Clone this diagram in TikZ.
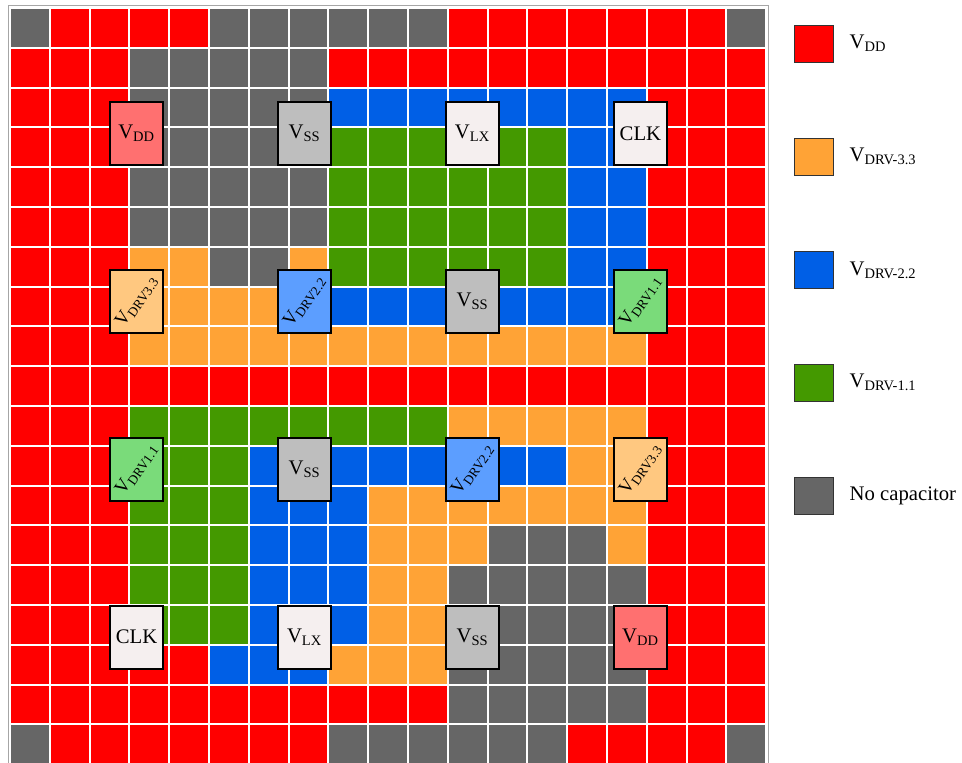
\documentclass[tikz,border=0pt]{standalone}
\usepackage{fontspec}
\setmainfont{Liberation Serif}
\usetikzlibrary{positioning}
\definecolor{cvdd}{RGB}{255,0,0}
\definecolor{cnocap}{RGB}{102,102,102}
\definecolor{cdrvhi}{RGB}{255,163,54}
\definecolor{cdrvmid}{RGB}{0,95,230}
\definecolor{cdrvlo}{RGB}{68,153,0}
\definecolor{padvdd}{RGB}{255,112,112}
\definecolor{padvss}{RGB}{190,190,190}
\definecolor{padsig}{RGB}{245,239,239}
\definecolor{padhi}{RGB}{255,200,128}
\definecolor{padmid}{RGB}{92,158,255}
\definecolor{padlo}{RGB}{122,219,122}
\newcommand{\volt}[1]{V\textsubscript{#1}}
\newcommand{\tilted}[1]{\rotatebox[origin=c]{55}{\fontsize{13.6}{16}\selectfont #1}}

\begin{document}
\begin{tikzpicture}[font=\fontsize{14.8}{17}\selectfont,
  pad/.style={draw=black,line width=1.2pt,minimum width=1.33cm,minimum height=1.58cm,inner sep=0pt},
  legbox/.style={draw=black!80,line width=0.6pt,minimum width=1cm,minimum height=0.93cm,inner sep=0pt},
  legtext/.style={right=0.38cm of #1,inner sep=0pt}]
\useasboundingbox (-0.251,0.201) rectangle (23.92,-18.945);
% capacitor array
\fill[cvdd] (0,0) rectangle (19,-19);
\foreach \r/\a/\b/\c in {0/0/0/cnocap,0/5/10/cnocap,0/18/18/cnocap,
  1/3/7/cnocap,
  2/3/7/cnocap,2/8/15/cdrvmid,
  3/3/7/cnocap,3/8/13/cdrvlo,3/14/15/cdrvmid,
  4/3/7/cnocap,4/8/13/cdrvlo,4/14/15/cdrvmid,
  5/3/7/cnocap,5/8/13/cdrvlo,5/14/15/cdrvmid,
  6/3/4/cdrvhi,6/5/6/cnocap,6/7/7/cdrvhi,6/8/13/cdrvlo,6/14/15/cdrvmid,
  7/3/7/cdrvhi,7/8/15/cdrvmid,
  8/3/15/cdrvhi,
  10/3/10/cdrvlo,10/11/15/cdrvhi,
  11/3/5/cdrvlo,11/6/13/cdrvmid,11/14/15/cdrvhi,
  12/3/5/cdrvlo,12/6/8/cdrvmid,12/9/15/cdrvhi,
  13/3/5/cdrvlo,13/6/8/cdrvmid,13/9/11/cdrvhi,13/12/14/cnocap,13/15/15/cdrvhi,
  14/3/5/cdrvlo,14/6/8/cdrvmid,14/9/10/cdrvhi,14/11/15/cnocap,
  15/3/5/cdrvlo,15/6/8/cdrvmid,15/9/10/cdrvhi,15/11/15/cnocap,
  16/5/7/cdrvmid,16/8/10/cdrvhi,16/11/15/cnocap,
  17/11/15/cnocap,
  18/0/0/cnocap,18/8/13/cnocap,18/18/18/cnocap}
  \fill[\c] (\a,-\r) rectangle (\b+1,-\r-1);
\draw[white,line width=1.4pt] (0,-19) grid (19,0);
\draw[gray!70,line width=0.6pt] (-0.04,0.07) rectangle (19.05,-19.1);
% pads
\node[pad,fill=padvdd] (p11) at (3.18,-3.15) {\volt{DD}};
\node[pad,fill=padvss] (p12) at (7.40,-3.15) {\volt{SS}};
\node[pad,fill=padsig] (p13) at (11.62,-3.15) {\volt{LX}};
\node[pad,fill=padsig] (p14) at (15.84,-3.15) {CLK};
\node[pad,fill=padhi] (p21) at (3.18,-7.37) {\tilted{\volt{DRV3.3}}};
\node[pad,fill=padmid] (p22) at (7.40,-7.37) {\tilted{\volt{DRV2.2}}};
\node[pad,fill=padvss] (p23) at (11.62,-7.37) {\volt{SS}};
\node[pad,fill=padlo] (p24) at (15.84,-7.37) {\tilted{\volt{DRV1.1}}};
\node[pad,fill=padlo] (p31) at (3.18,-11.59) {\tilted{\volt{DRV1.1}}};
\node[pad,fill=padvss] (p32) at (7.40,-11.59) {\volt{SS}};
\node[pad,fill=padmid] (p33) at (11.62,-11.59) {\tilted{\volt{DRV2.2}}};
\node[pad,fill=padhi] (p34) at (15.84,-11.59) {\tilted{\volt{DRV3.3}}};
\node[pad,fill=padsig] (p41) at (3.18,-15.81) {CLK};
\node[pad,fill=padsig] (p42) at (7.40,-15.81) {\volt{LX}};
\node[pad,fill=padvss] (p43) at (11.62,-15.81) {\volt{SS}};
\node[pad,fill=padvdd] (p44) at (15.84,-15.81) {\volt{DD}};
% legend
\node[legbox,fill=cvdd] (lvdd) at (20.2,-0.892) {};
\node[legtext=lvdd] {\volt{DD}};
\node[legbox,fill=cdrvhi] (lhi) at (20.2,-3.736) {};
\node[legtext=lhi] {\volt{DRV-3.3}};
\node[legbox,fill=cdrvmid] (lmid) at (20.2,-6.583) {};
\node[legtext=lmid] {\volt{DRV-2.2}};
\node[legbox,fill=cdrvlo] (llo) at (20.2,-9.415) {};
\node[legtext=llo] {\volt{DRV-1.1}};
\node[legbox,fill=cnocap] (lnone) at (20.2,-12.26) {};
\node[legtext=lnone] {No capacitor};
\end{tikzpicture}
\end{document}
